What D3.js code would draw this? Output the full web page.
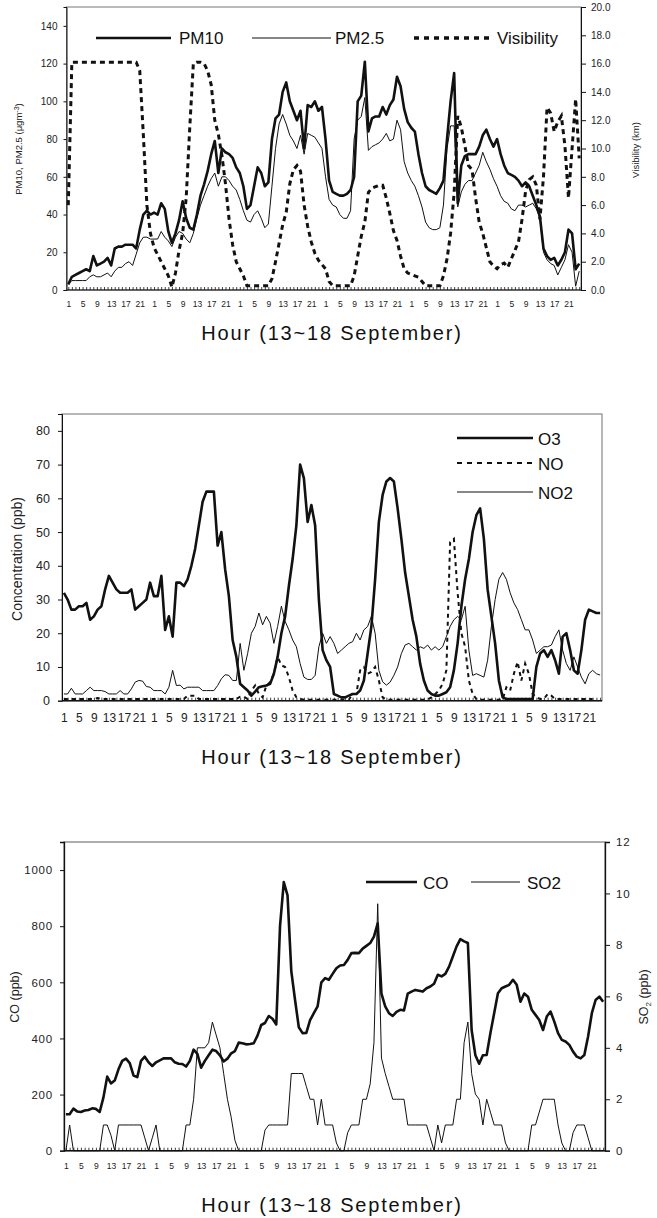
<!DOCTYPE html>
<html><head><meta charset="utf-8">
<script src="https://cdn.jsdelivr.net/npm/d3@7"></script>
<style>
body{margin:0;background:#fff}
svg{display:block;font-family:"Liberation Sans",Arial,sans-serif}
</style>
</head><body>
<svg id="c" width="657" height="1218"></svg>
<script>
// ---------- data (hourly, 13~18 September, 144 h) ----------
const hourLabels = ["1","5","9","13","17","21"];
const pm10 = [3,7,8,9,10,11,10,18,13,14,15,17,13,22,23,23,24,24,24,22,32,40,42,40,
41,40,46,43,31,25,30,37,47,38,33,32,40,50,56,63,72,79,62,75,73,72,70,65,
62,55,43,45,55,65,62,55,57,80,91,93,105,110,100,95,90,95,75,98,97,100,95,97,
80,58,52,51,50,50,51,53,60,100,103,121,84,91,92,92,97,93,98,101,113,108,96,89,
86,84,72,62,55,53,52,51,54,58,80,100,115,46,66,71,72,72,72,76,82,85,80,76,
80,72,66,62,61,60,58,55,57,55,50,45,39,22,18,16,17,13,16,20,32,30,11,14];
const pm25 = [3,5,5,5,5,5,7,8,7,7,8,9,7,10,12,12,14,15,13,19,25,28,28,27,
27,27,31,28,26,23,28,31,30,27,25,30,38,45,50,55,59,62,55,60,60,58,55,53,
48,42,37,36,40,42,38,33,35,55,75,88,93,88,82,79,75,82,72,83,82,81,78,75,
60,48,45,44,40,38,38,42,80,90,92,102,74,76,77,78,80,83,79,80,90,85,68,62,
58,55,50,44,36,33,32,32,33,45,75,87,87,44,52,56,58,58,62,66,73,68,64,59,
55,50,47,46,43,42,45,45,44,45,46,43,38,20,16,14,13,8,12,16,24,20,2,10];
const visibility = [6,16.1,16.1,16.1,16.1,16.1,16.1,16.1,16.1,16.1,16.1,16.1,16.1,16.1,16.1,16.1,16.1,16.1,16.1,16.1,15.5,11,6,4,
3,2.5,2,1.5,1,0.2,1.2,2.8,4,6.5,11.5,16,16.1,16.1,16,15.5,14.5,12,11,9.5,7.5,5,3.2,2,
1.5,1,0.3,0.3,0.3,0.3,0.3,0.3,0.3,0.8,2,3.3,4.6,5.5,7.5,8.5,8.8,8.4,6,4.5,3.4,2.6,2.1,1.8,
1.5,0.6,0.3,0.3,0.3,0.3,0.3,0.3,1,2.4,3.8,4.8,6.9,7.2,7.3,7.4,7.4,6.5,5.4,4.2,3.5,2.4,1.5,1.2,
1.1,1,0.9,0.6,0.3,0.3,0.3,0.3,0.3,1,2.2,4,6.9,12.3,11.5,10.2,8.8,8.5,6.5,4.8,4,3,2,1.7,
1.5,1.8,1.9,1.6,2.2,2.8,3.4,5,7,7.8,8,7.4,5,8,12.9,12.5,11.2,11.9,12.3,10.2,6.5,10,13.5,9.3];
const o3 = [32,30,27,27,28,28,29,24,25,27,28,33,37,35,33,32,32,32,33,27,28,29,30,35,
31,31,37,21,25,19,35,35,34,36,40,45,52,59,62,62,62,46,50,39,31,18,13,5,
4,3,1.5,2.7,4,4.3,4.5,5,8,13,20,25,34,42,52,70,66,53,58,52,30,15,12,10,
2,1.5,1,1,1.5,2,2,3,6,14,22,36,53,61,65,66,65,57,48,38,31,24,19,11,
6,3,2,1.5,1.5,2,2.5,4,9,17,28,36,42,50,55,57,48,33,25,17,6,1,
0.5,0.5,0.5,0.5,0.5,0.5,0.5,0.5,10,14,15,13,15,12,8,19,20,15,9,8,15,24,27,26.5,26,26];
const no = [0.5,0.5,0.5,0.5,0.5,0.5,0.5,0.5,0.5,0.8,0.5,0.5,0.5,0.5,0.5,0.5,0.5,0.5,0.5,0.5,0.5,0.5,0.5,0.5,
0.5,0.5,0.5,0.5,0.5,0.5,0.5,0.5,0.5,1.5,1.5,1.5,0.5,0.5,0.5,0.5,0.5,0.5,0.5,0.5,0.5,0.5,0.5,1.2,
1.2,0.5,3,4.5,2,1,4.5,5.5,8,13,10.5,10,7,3,1,0.5,0.3,0.3,0.3,0.3,0.3,0.3,0.3,0.3,
0.3,0.3,0.3,0.3,0.3,2,2,9,10,8,8.5,10,6,1,0.3,0.3,0.3,0.3,0.3,0.3,0.3,0.3,0.3,0.3,
0.3,0.3,1,2,3,5,9,47,48,32,20,16,6,2,0.5,0.3,0.3,0.3,0.3,0.3,0.3,0.3,
4,3,8,11.5,6,11,8,2,1,0.5,0.5,2,1.5,0.5,0.5,0.5,0.5,0.5,0.5,0.5,0.5,0.5,0.5,0.5];
const no2 = [2,2,3.7,2,2,2,3,4,3,3,3,2.7,2,2,2,3,2,2,3.5,5.5,6,5.8,4.2,4,
3,3,3,2,4,9,4.5,4.6,3.5,4,4,4,4,3,3,3,3,4.5,6.5,7.7,7.5,6,6,17,
9,14,20,22,26,22.5,25,23,17,22,28,23.5,21,18,16,11,7,6.3,6.3,7.5,16,20,17,19,
17,14,15,16,17,17.5,20,18,21,22,25,20,9,5.6,4.6,5.5,7.5,10,14,16.5,17,16,15,16,
15.5,16.5,15,16,15,16,19,22,24,25,24,28,15,7.5,8,7.5,7,12,22,30,36,38,36,32,
29,27,24,21,21,18,14,15,16,16,16.5,19,21,15,11,9,13,10,7,5,8,9,8,7.6];
const co = [130,130,150,140,138,143,145,151,149,138,190,264,240,250,290,320,328,312,268,262,320,335,315,302,
315,322,329,329,329,315,310,309,300,320,360,345,296,320,340,360,355,340,318,328,347,355,385,383,
379,380,383,410,448,455,480,470,450,800,957,910,640,537,440,419,420,465,490,514,600,615,609,630,
650,660,662,680,704,705,704,720,730,740,763,810,560,514,490,480,495,502,500,560,567,573,570,567,
579,585,595,627,621,630,656,692,728,754,746,740,430,340,310,340,341,419,490,561,579,585,591,609,
591,531,560,549,502,484,466,430,478,496,460,419,395,389,377,353,335,329,341,407,490,537,549,531];
const so2 = [0,1,0,0,0,0,0,0,0,0,1,1,0.6,0,1,1,1,1,1,1,1,0.5,0,0.5,
1,0,0,0,0,0,0,0,1,1,2,4,4,4,4.2,5,4.5,4,3,2,1.3,0.4,0,0,
0,0,0,0,0,0.8,1,1,1,1,1,1,3,3,3,3,2.5,2,2,1,2,1,1,1,
0.3,0,0,0.7,1,1,1,2,2,2.6,4.2,9.6,3.6,3,2.5,2,2,2,2,1,1,1,1,1,
1,0.5,0,1,0.3,1,1,1,2,2,4.2,5,3,2.2,2,1,2,1.5,1,1,1,0.3,0,0,
0,0,0,0,1,1,1.5,2,2,2,2,1,0.3,0,0,0.7,1,1,1,0.5,0,0,0,0];

// ---------- drawing ----------
const hours = d3.range(144);
const svg = d3.select("#c");
const INK = "#111";
const THICK = 2.6, THIN = 1;

function pathOf(x, y, arr) {
  return d3.line().x((d, i) => x(i)).y(d => y(d))(arr);
}
function styleAxis(sel, fs, ls) {
  sel.selectAll("text").attr("font-size", fs).attr("fill", "#222")
     .attr("font-family", '"Liberation Sans",Arial,sans-serif')
     .style("letter-spacing", (ls || 0) + "px");
  sel.selectAll("line").attr("stroke", INK);
  sel.select(".domain").attr("stroke", INK);
}
function xAxis(x, yBase, fs, pad) {
  const g1 = svg.append("g").attr("transform", `translate(0,${yBase})`)
    .call(d3.axisBottom(x).tickValues(hours).tickSize(-3).tickFormat(""));
  g1.select(".domain").remove();
  g1.selectAll("line").attr("stroke", INK).attr("stroke-width", 0.8);
  const g2 = svg.append("g").attr("transform", `translate(0,${yBase})`)
    .call(d3.axisBottom(x).tickValues(hours.filter(i => i % 4 === 0))
      .tickSize(0).tickPadding(pad).tickFormat(i => hourLabels[(i % 24) / 4]));
  g2.select(".domain").remove();
  styleAxis(g2, fs);
}
function title(cx, y) {
  svg.append("text").attr("x", cx).attr("y", y).attr("text-anchor", "middle")
    .attr("font-size", 20).style("letter-spacing", "1.8px").attr("fill", "#111")
    .text("Hour (13~18 September)");
}
function legendLine(x1, x2, y, w, dash) {
  svg.append("line").attr("x1", x1).attr("x2", x2).attr("y1", y).attr("y2", y)
    .attr("stroke", INK).attr("stroke-width", w).attr("stroke-dasharray", dash || null);
}
function legendText(x, y, t, fs) {
  svg.append("text").attr("x", x).attr("y", y).attr("dy", "0.36em")
    .attr("font-size", fs || 17).attr("fill", "#111").text(t);
}

// ===== Panel 1 : PM10, PM2.5, Visibility =====
{
  const L = 66.5, R = 581, T = 7, B = 290;
  const x = d3.scaleLinear().domain([-0.5, 143.5]).range([L, R]);
  const y = d3.scaleLinear().domain([0, 150]).range([B, T]);
  const yr = d3.scaleLinear().domain([0, 20]).range([B, T]);
  svg.append("rect").attr("x", L).attr("y", T).attr("width", R - L).attr("height", B - T)
    .attr("fill", "none").attr("stroke", "#777").attr("stroke-width", 1);
  const la = svg.append("g").attr("transform", `translate(${L},0)`)
    .call(d3.axisLeft(y).tickValues(d3.range(0, 141, 20)).tickSize(3).tickPadding(6));
  styleAxis(la, 10);
  const ra = svg.append("g").attr("transform", `translate(${R},0)`)
    .call(d3.axisRight(yr).tickValues(d3.range(0, 20.1, 2)).tickSize(5).tickPadding(5).tickFormat(d3.format(".1f")));
  styleAxis(ra, 10);
  svg.append("line").attr("x1", L).attr("x2", R).attr("y1", B).attr("y2", B).attr("stroke", INK).attr("stroke-width", 1.2);
  xAxis(x, B, 8.5, 11);

  svg.append("path").attr("d", pathOf(x, yr, visibility)).attr("fill", "none")
    .attr("stroke", INK).attr("stroke-width", 3).attr("stroke-dasharray", "5,4");
  svg.append("path").attr("d", pathOf(x, y, pm25)).attr("fill", "none")
    .attr("stroke", INK).attr("stroke-width", THIN);
  svg.append("path").attr("d", pathOf(x, y, pm10)).attr("fill", "none")
    .attr("stroke", INK).attr("stroke-width", THICK).attr("stroke-linejoin", "round");

  // legend
  legendLine(96, 171, 38, THICK); legendText(179, 38, "PM10");
  legendLine(252, 331, 38, THIN); legendText(335, 38, "PM2.5");
  legendLine(414, 492, 38, 3.5, "5,5"); legendText(497, 38, "Visibility");

  const yl = svg.append("text").attr("transform", "translate(22,149) rotate(-90)")
    .attr("text-anchor", "middle").attr("font-size", 9.5).attr("fill", "#222");
  yl.append("tspan").text("PM10,  PM2.5 (\u03bcgm");
  yl.append("tspan").attr("dy", -3).attr("font-size", 7).text("-3");
  yl.append("tspan").attr("dy", 3).text(")");
  svg.append("text").attr("transform", "translate(639,150) rotate(-90)")
    .attr("text-anchor", "middle").attr("font-size", 9.5).attr("fill", "#222").text("Visibility (km)");
  title(332, 340);
}

// ===== Panel 2 : O3, NO, NO2 =====
{
  const L = 62, R = 602, T = 414, B = 700.7;
  const x = d3.scaleLinear().domain([-0.5, 143.5]).range([L, R]);
  const y = d3.scaleLinear().domain([0, 85]).range([B, T]);
  svg.append("rect").attr("x", L).attr("y", T).attr("width", R - L).attr("height", B - T)
    .attr("fill", "none").attr("stroke", "#888").attr("stroke-width", 1.2);
  const la = svg.append("g").attr("transform", `translate(${L},0)`)
    .call(d3.axisLeft(y).tickValues(d3.range(0, 81, 10)).tickSize(4).tickPadding(8));
  styleAxis(la, 12.5);
  svg.append("line").attr("x1", L).attr("x2", R).attr("y1", B).attr("y2", B).attr("stroke", INK).attr("stroke-width", 1.6);
  xAxis(x, B, 12, 13);

  svg.append("path").attr("d", pathOf(x, y, no2)).attr("fill", "none")
    .attr("stroke", INK).attr("stroke-width", THIN);
  svg.append("path").attr("d", pathOf(x, y, no)).attr("fill", "none")
    .attr("stroke", INK).attr("stroke-width", 2).attr("stroke-dasharray", "4,4");
  svg.append("path").attr("d", pathOf(x, y, o3)).attr("fill", "none")
    .attr("stroke", INK).attr("stroke-width", THICK).attr("stroke-linejoin", "round");

  legendLine(457, 533, 438, THICK); legendText(538, 439, "O3");
  legendLine(457, 533, 463, 2, "5,5"); legendText(538, 464, "NO");
  legendLine(457, 533, 492, THIN); legendText(538, 493, "NO2");

  svg.append("text").attr("transform", "translate(22,559) rotate(-90)")
    .attr("text-anchor", "middle").attr("font-size", 14).attr("fill", "#222").text("Concentration (ppb)");
  title(332, 764);
}

// ===== Panel 3 : CO, SO2 =====
{
  const L = 64, R = 605, T = 842, B = 1150.7;
  const x = d3.scaleLinear().domain([-0.5, 143.5]).range([L, R]);
  const y = d3.scaleLinear().domain([0, 1100]).range([B, T]);
  const yr = d3.scaleLinear().domain([0, 12]).range([B, T]);
  svg.append("rect").attr("x", L).attr("y", T).attr("width", R - L).attr("height", B - T)
    .attr("fill", "none").attr("stroke", "#777").attr("stroke-width", 1.2);
  const la = svg.append("g").attr("transform", `translate(${L},0)`)
    .call(d3.axisLeft(y).tickValues(d3.range(0, 1001, 200)).tickSize(4).tickPadding(7).tickFormat(d3.format("d")));
  styleAxis(la, 11.5, 0.8);
  const ra = svg.append("g").attr("transform", `translate(${R},0)`)
    .call(d3.axisRight(yr).tickValues(d3.range(0, 13, 2)).tickSize(5).tickPadding(6).tickFormat(d3.format("d")));
  styleAxis(ra, 11.5, 0.8);
  la.select(".domain").attr("stroke-width", 1.3);
  ra.select(".domain").attr("stroke-width", 1.3);
  svg.append("line").attr("x1", L).attr("x2", R).attr("y1", B).attr("y2", B).attr("stroke", INK).attr("stroke-width", 1.4);
  xAxis(x, B, 8.5, 12);

  svg.append("path").attr("d", pathOf(x, yr, so2)).attr("fill", "none")
    .attr("stroke", INK).attr("stroke-width", THIN);
  svg.append("path").attr("d", pathOf(x, y, co)).attr("fill", "none")
    .attr("stroke", INK).attr("stroke-width", THICK).attr("stroke-linejoin", "round");

  legendLine(366, 417, 882, THICK); legendText(423, 883, "CO");
  legendLine(471, 520, 882, THIN); legendText(527, 883, "SO2");

  svg.append("text").attr("transform", "translate(19,997) rotate(-90)")
    .attr("text-anchor", "middle").attr("font-size", 12.5).attr("fill", "#222").text("CO (ppb)");
  const sl = svg.append("text").attr("transform", "translate(648,997) rotate(-90)")
    .attr("text-anchor", "middle").attr("font-size", 12.5).attr("fill", "#222");
  sl.append("tspan").text("SO");
  sl.append("tspan").attr("dy", 3).attr("font-size", 8).text("2");
  sl.append("tspan").attr("dy", -3).text(" (ppb)");
  title(332, 1212);
}
</script>
</body></html>
